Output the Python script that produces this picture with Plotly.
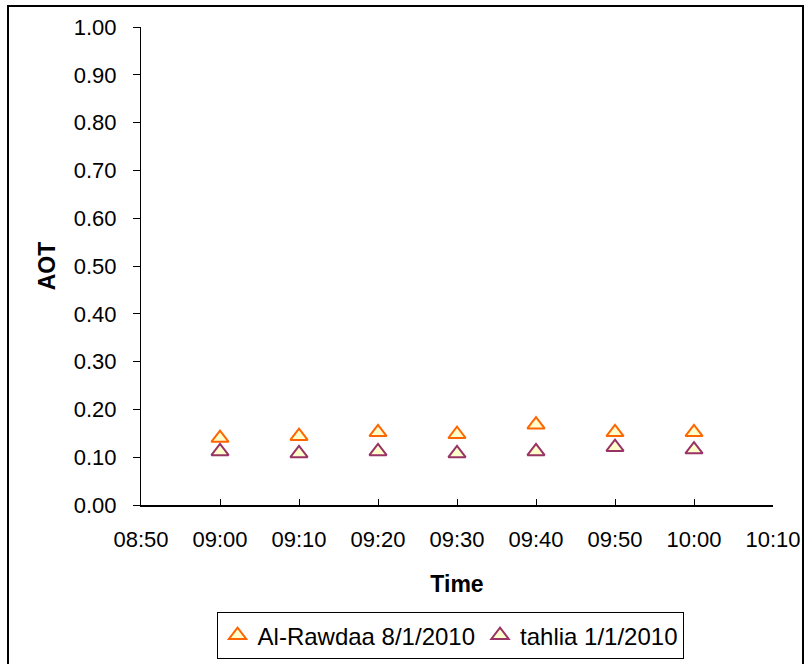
import plotly.graph_objects as go

times = ["2010-01-01 09:00", "2010-01-01 09:10", "2010-01-01 09:20", "2010-01-01 09:30",
         "2010-01-01 09:40", "2010-01-01 09:50", "2010-01-01 10:00"]
rawdaa = [0.140, 0.144, 0.152, 0.148, 0.168, 0.152, 0.152]
tahlia = [0.112, 0.108, 0.112, 0.108, 0.112, 0.121, 0.116]
series_names = ["Al-Rawdaa 8/1/2010", "tahlia 1/1/2010"]
y_ticks = [0.0, 0.1, 0.2, 0.3, 0.4, 0.5, 0.6, 0.7, 0.8, 0.9, 1.0]

font_family = "Liberation Sans, Arial, sans-serif"

fig = go.Figure()
fig.add_trace(go.Scatter(
    x=times, y=rawdaa, mode="markers", name=series_names[0],
    marker=dict(symbol="triangle-up", size=15, color="#FFFFCC",
                line=dict(color="#FF6600", width=2)),
))
fig.add_trace(go.Scatter(
    x=times, y=tahlia, mode="markers", name=series_names[1],
    marker=dict(symbol="triangle-up", size=15, color="#FFFFCC",
                line=dict(color="#993366", width=2)),
))

fig.update_layout(
    width=805, height=664,
    margin=dict(l=141, r=32, t=27, b=159, autoexpand=False),
    paper_bgcolor="white", plot_bgcolor="white",
    font=dict(family=font_family, size=22, color="black"),
    showlegend=True,
    legend=dict(orientation="h", x=0.489, xanchor="center", y=-0.224, yanchor="top",
                bordercolor="black", borderwidth=1, font=dict(size=24),
                itemwidth=30, tracegroupgap=0),
    xaxis=dict(
        type="date", automargin=False,
        range=["2010-01-01 08:50", "2010-01-01 10:10"],
        tick0="2010-01-01 08:50", dtick=600000, tickformat="%H:%M",
        ticks="inside", ticklen=6, tickcolor="black",
        showline=True, linecolor="black", linewidth=1.5,
        showgrid=False, zeroline=False,
        ticklabelstandoff=14,
        title=dict(text="<b>Time</b>", font=dict(size=23), standoff=25),
    ),
    yaxis=dict(
        automargin=False,
        range=[0, 1.0], tickvals=y_ticks, tickformat=".2f",
        ticks="outside", ticklen=7, tickcolor="black",
        showline=True, linecolor="black", linewidth=1,
        showgrid=False, zeroline=False,
        ticklabelstandoff=12,
        title=dict(text="<b>AOT</b>", font=dict(size=23), standoff=11),
    ),
    shapes=[dict(type="rect", xref="paper", yref="paper",
                 x0=-133/632, x1=(803-141)/632, y0=-0.5, y1=(505-6)/478,
                 line=dict(color="black", width=2), fillcolor="rgba(0,0,0,0)",
                 layer="below")],
)

fig.write_html("out.html")
